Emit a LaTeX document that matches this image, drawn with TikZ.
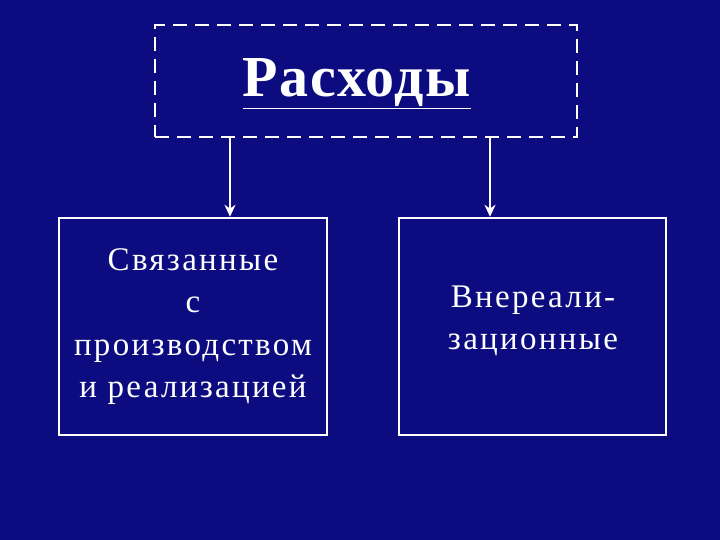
\documentclass[tikz,border=0pt]{standalone}
\usepackage{fontspec}
\setmainfont{Liberation Serif}
\usetikzlibrary{arrows.meta}
\definecolor{bg}{RGB}{12,12,128}
\begin{document}
\begin{tikzpicture}[x=1pt,y=-1pt,
  box/.style={draw=white,line width=2.5pt,text=white,align=center,inner sep=0pt},
  conn/.style={draw=white,line width=2pt,-{Stealth[length=12pt,width=11pt]}}]
\fill[bg] (0,0) rectangle (720,540);
\useasboundingbox (0,0) rectangle (720,540);
\node[box,dashed,dash pattern=on 14pt off 8pt,minimum width=422pt,minimum height=112pt] (top) at (366,81) {};
\node[text=white,font=\fontsize{58}{60}\selectfont\bfseries\addfontfeature{LetterSpace=3}] (t) at (357,84) {\underline{Расходы}};
\node[box,minimum width=268pt,minimum height=217pt,font=\fontsize{33}{42.5}\selectfont\addfontfeature{LetterSpace=7}] (l) at (193,326.5) {Связанные\\с\\производством\\и реализацией};
\node[box,minimum width=267pt,minimum height=217pt] (r) at (532.5,326.5) {};
\node[text=white,align=center,font=\fontsize{33}{42.5}\selectfont\addfontfeature{LetterSpace=7}] (rt) at (533,321) {Внереали-\\зационные};
\draw[conn] (230,137) -- (l.north -| 230,0);
\draw[conn] (490,137) -- (r.north -| 490,0);
\end{tikzpicture}
\end{document}
